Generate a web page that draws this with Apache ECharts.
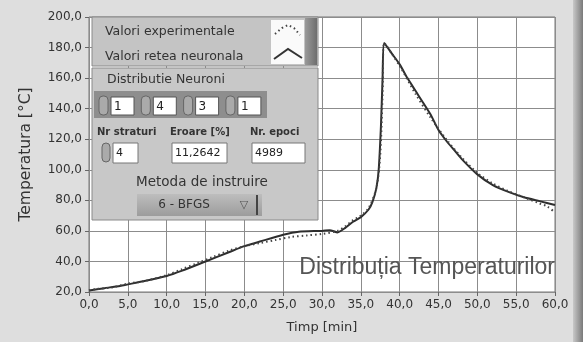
<!DOCTYPE html>
<html>
<head>
<meta charset="utf-8">
<script src="https://cdn.jsdelivr.net/npm/echarts@6/dist/echarts.min.js"></script>
<style>
  html, body { margin: 0; padding: 0; background: #dedede; }
  #chart { width: 583px; height: 342px; }
</style>
</head>
<body>
<div id="chart"></div>
<script>
// valori experimentale (punctat)
const timpExp = [0, 1, 3, 5, 7, 10, 12, 14, 16, 18, 20, 22, 24, 26, 28, 30, 32, 33, 34, 35, 36, 37, 37.5, 37.8, 38, 40, 42, 44, 46, 48, 50, 52, 54, 56, 58, 59, 60]
const tempExp = [21, 22, 23, 25.5, 27, 31, 35, 39, 43, 47, 50, 52, 54, 56, 57, 58, 60, 63, 67, 70, 75, 88, 110, 150, 183, 168, 150, 134, 120, 108, 98, 91, 86, 82, 78, 76, 72]

// valori retea neuronala (linie continua)
const timpNet = [0, 2, 4, 5, 7, 10, 12, 15, 18, 20, 22, 25, 27, 30, 31, 32, 33, 34, 35, 36, 36.5, 37, 37.3, 37.6, 37.8, 38, 39, 40, 41, 42, 43, 44, 45, 46, 47, 48, 50, 52, 54, 56, 58, 60]
const tempNet = [21, 22.5, 24, 25, 27, 30.5, 34, 40, 46, 50, 53, 57.5, 59.5, 60, 60.5, 59, 62, 66, 69, 74, 79, 88, 100, 130, 160, 183, 176, 169, 160, 152, 144, 136, 126, 119, 113, 107, 97, 90, 85.5, 82, 79.5, 77]

const seriesNames = ['Valori experimentale', 'Valori retea neuronala']
const neuroni = ['1', '4', '3', '1']
const paramLabels = ['Nr straturi', 'Eroare [%]', 'Nr. epoci']
const paramValues = ['4', '11,2642', '4989']
const metoda = '6 - BFGS'

const chart = echarts.init(document.getElementById('chart'))

const zip = (xs, ys) => xs.map((x, i) => [x, ys[i]])
const fmt = v => v.toFixed(1).replace('.', ',')
const font = 'DejaVu Sans'

// text helper, centrat vertical
const label = (x, y, text, size, opts) => ({
  type: 'text', x, y,
  style: Object.assign({ text, font: size + 'px ' + font, fill: '#333', verticalAlign: 'middle' }, opts || {})
})

// panou de control desenat peste grafic
const panel = []
// legenda
panel.push({ type: 'rect', shape: { x: 92, y: 17, width: 226, height: 49 }, style: { fill: '#c4c4c4', stroke: '#8a8a8a', lineWidth: 1 } })
panel.push(label(105, 32, seriesNames[0], 12.5))
panel.push(label(105, 57, seriesNames[1], 12.5))
panel.push({ type: 'rect', shape: { x: 271, y: 20, width: 33, height: 44 }, style: { fill: '#fafafa' } })
panel.push({ type: 'rect', shape: { x: 305, y: 18, width: 12, height: 47 }, style: { fill: new echarts.graphic.LinearGradient(0, 0, 1, 0, [{ offset: 0, color: '#9a9a9a' }, { offset: 1, color: '#6e6e6e' }]) } })
panel.push({ type: 'polyline', shape: { points: [[275, 34], [282, 28], [288, 25], [294, 28], [300, 35]] }, style: { stroke: '#444', lineWidth: 2, lineDash: [1.5, 3], fill: null } })
panel.push({ type: 'polyline', shape: { points: [[274, 59], [288, 49], [302, 58]] }, style: { stroke: '#333', lineWidth: 2, fill: null } })
// distributie neuroni
panel.push({ type: 'rect', shape: { x: 92, y: 68, width: 226, height: 152 }, style: { fill: '#c8c8c8', stroke: '#8a8a8a', lineWidth: 1 } })
panel.push(label(107, 80, 'Distributie Neuroni', 12.5))
panel.push({ type: 'rect', shape: { x: 94, y: 91, width: 173, height: 27 }, style: { fill: '#8e8e8e' } })
neuroni.forEach((n, i) => {
  const bx = 111 + i * 42.3
  panel.push({ type: 'rect', shape: { x: bx - 12, y: 96, width: 9, height: 19, r: 4 }, style: { fill: '#aaa', stroke: '#666' } })
  panel.push({ type: 'rect', shape: { x: bx, y: 97, width: 23, height: 18 }, style: { fill: '#fff', stroke: '#555' } })
  panel.push(label(bx + 3, 106.5, n, 12, { fill: '#222' }))
})
const labelX = [97, 170, 250]
const boxX = [113, 172, 252]
const boxW = [25, 55, 53]
paramLabels.forEach((l, i) => {
  panel.push(label(labelX[i], 132, l, 10, { font: 'bold 10px ' + font }))
  panel.push({ type: 'rect', shape: { x: boxX[i], y: 143, width: boxW[i], height: 20 }, style: { fill: '#fff', stroke: '#777' } })
  panel.push(label(boxX[i] + 3, 153, paramValues[i], 11, { fill: '#222' }))
})
panel.push({ type: 'rect', shape: { x: 102, y: 143, width: 8, height: 19, r: 4 }, style: { fill: '#aaa', stroke: '#666' } })
panel.push(label(202, 182, 'Metoda de instruire', 13.5, { align: 'center' }))
panel.push({ type: 'rect', shape: { x: 137, y: 194, width: 125, height: 22 }, style: { fill: new echarts.graphic.LinearGradient(0, 0, 0, 1, [{ offset: 0, color: '#bdbdbd' }, { offset: 1, color: '#9c9c9c' }]) } })
panel.push(label(184, 205, metoda, 12, { align: 'center' }))
panel.push(label(244, 205, '▽', 11, { align: 'center', fill: '#555' }))
panel.push({ type: 'rect', shape: { x: 256, y: 195, width: 2, height: 20 }, style: { fill: '#444' } })
// margine dreapta
panel.push({ type: 'rect', shape: { x: 573, y: 0, width: 10, height: 342 }, style: { fill: new echarts.graphic.LinearGradient(0, 0, 1, 0, [{ offset: 0, color: '#c8c8c8' }, { offset: 1, color: '#7a7a7a' }]) } })
// titlu in grafic
panel.push({ type: 'text', x: 555, y: 268, style: { text: 'Distribuția Temperaturilor', font: '23px Liberation Sans', fill: '#555', align: 'right', verticalAlign: 'middle' } })
panel.forEach(el => { el.z = 100 })

const option = {
  backgroundColor: '#dedede',
  animation: false,
  grid: {
    left: 89,
    right: 28,
    top: 17,
    bottom: 50,
    show: true,
    backgroundColor: '#ffffff',
    borderColor: '#777',
    borderWidth: 1
  },
  xAxis: {
    type: 'value',
    min: 0,
    max: 60,
    interval: 5,
    name: 'Timp [min]',
    nameLocation: 'middle',
    nameGap: 29,
    nameTextStyle: { fontFamily: font, fontSize: 13, color: '#333' },
    axisLine: { show: false },
    axisTick: { show: true, length: 4, lineStyle: { color: '#666' } },
    axisLabel: { formatter: fmt, fontFamily: font, fontSize: 12, color: '#333', margin: 7 },
    splitLine: { show: true, lineStyle: { color: '#8c8c8c', width: 1 } }
  },
  yAxis: {
    type: 'value',
    min: 20,
    max: 200,
    interval: 20,
    name: 'Temperatura [°C]',
    nameLocation: 'middle',
    nameGap: 55,
    nameTextStyle: { fontFamily: font, fontSize: 15.5, color: '#333' },
    axisLine: { show: false },
    axisTick: { show: true, length: 4, lineStyle: { color: '#666' } },
    axisLabel: { formatter: fmt, fontFamily: font, fontSize: 12, color: '#333', margin: 7 },
    splitLine: { show: true, lineStyle: { color: '#8c8c8c', width: 1 } }
  },
  series: [
    {
      name: seriesNames[0],
      type: 'line',
      data: zip(timpExp, tempExp),
      showSymbol: false,
      smooth: 0.3,
      lineStyle: { color: '#444', width: 2, type: [1.5, 3] },
      z: 3
    },
    {
      name: seriesNames[1],
      type: 'line',
      data: zip(timpNet, tempNet),
      showSymbol: false,
      smooth: 0.2,
      lineStyle: { color: '#2e2e2e', width: 2 },
      z: 2
    }
  ],
  graphic: panel
}

chart.setOption(option)
</script>
</body>
</html>
